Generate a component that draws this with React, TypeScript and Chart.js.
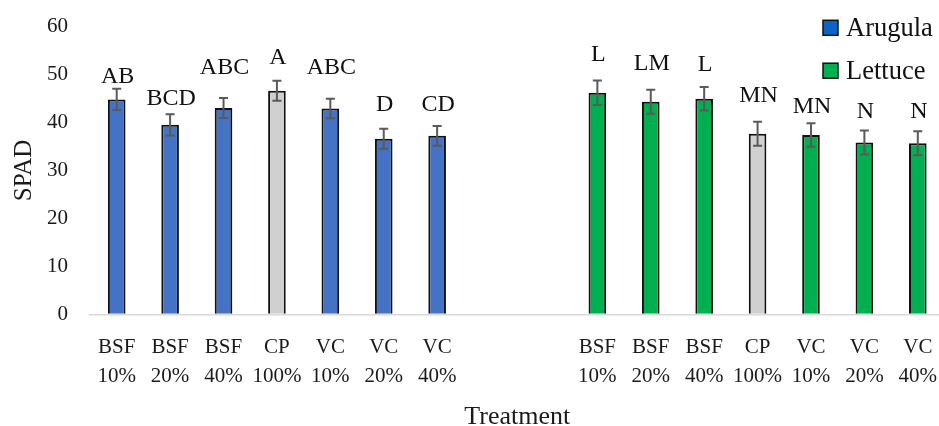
import React, { useEffect, useRef } from "react";
import { Chart, registerables } from "chart.js";

Chart.register(...registerables);

// ---------- data ----------
const treatments: string[][] = [
  ["BSF", "10%"], ["BSF", "20%"], ["BSF", "40%"], ["CP", "100%"],
  ["VC", "10%"], ["VC", "20%"], ["VC", "40%"],
];
const gapCategories: string[][] = [[""], [""]];

const arugulaMean = [44.8, 39.5, 43.0, 46.6, 42.9, 36.6, 37.2];
const arugulaSD = [2.2, 2.2, 2.1, 2.1, 2.05, 2.1, 2.05];
const arugulaLetters = ["AB", "BCD", "ABC", "A", "ABC", "D", "CD"];
const arugulaLetterLevel = [49.6, 44.95, 51.35, 53.5, 51.35, 43.8, 43.6];

const lettuceMean = [46.2, 44.3, 44.95, 37.65, 37.4, 35.8, 35.65];
const lettuceSD = [2.55, 2.5, 2.45, 2.5, 2.45, 2.5, 2.5];
const lettuceLetters = ["L", "LM", "L", "MN", "MN", "N", "N"];
const lettuceLetterLevel = [54.05, 52.3, 52.1, 45.6, 43.3, 42.3, 42.3];

const yMin = 0;
const yMax = 60;
const yStep = 10;

// ---------- styles ----------
const FONT = "'Liberation Serif', 'Times New Roman', serif";
const BLUE = "#4472C4";
const GREEN = "#00B050";
const GRAY = "#D0D0D0";
const LEGEND_BLUE = "#0B63C8";
const TEXT = "#1a1a1a";
const CLEAR = "rgba(0,0,0,0)";

const categories = [...treatments, ...gapCategories, ...treatments];
const pad = gapCategories.map(() => null);
const blankLettuce = treatments.map(() => null);

const colorFor = (base: string) =>
  treatments.map((t) => (t[0] === "CP" ? GRAY : base));

const series = [
  { mean: arugulaMean, sd: arugulaSD, letters: arugulaLetters, levels: arugulaLetterLevel },
  { mean: lettuceMean, sd: lettuceSD, letters: lettuceLetters, levels: lettuceLetterLevel },
];

const annotatePlugin = {
  id: "annotate",
  afterDatasetsDraw(chart: any) {
    const ctx = chart.ctx;
    const yScale = chart.scales.y;
    chart.data.datasets.forEach((ds: any, di: number) => {
      const meta = chart.getDatasetMeta(di);
      const s = series[di];
      let k = 0;
      meta.data.forEach((el: any, i: number) => {
        const v = ds.data[i];
        if (v === null || v === undefined) return;
        const x = el.x;
        const mean = s.mean[k];
        const sd = s.sd[k];
        const yt = yScale.getPixelForValue(mean + sd);
        const yb = yScale.getPixelForValue(mean - sd);
        ctx.save();
        ctx.strokeStyle = "#5a5a5a";
        ctx.lineWidth = 2;
        ctx.beginPath();
        ctx.moveTo(x, yt);
        ctx.lineTo(x, yb);
        ctx.moveTo(x - 4.5, yt);
        ctx.lineTo(x + 4.5, yt);
        ctx.moveTo(x - 4.5, yb);
        ctx.lineTo(x + 4.5, yb);
        ctx.stroke();
        ctx.fillStyle = "#111";
        ctx.font = `24px ${FONT}`;
        ctx.textAlign = "center";
        ctx.textBaseline = "middle";
        ctx.fillText(s.letters[k], x + 1, yScale.getPixelForValue(s.levels[k]));
        ctx.restore();
        k++;
      });
    });
  },
  afterDraw(chart: any) {
    const ctx = chart.ctx;
    const items = [
      { label: chart.data.datasets[0].label, color: LEGEND_BLUE, cy: 27.8 },
      { label: chart.data.datasets[1].label, color: GREEN, cy: 70.7 },
    ];
    ctx.save();
    items.forEach((it) => {
      ctx.fillStyle = it.color;
      ctx.fillRect(823, it.cy - 7.5, 15, 15);
      ctx.strokeStyle = "#111";
      ctx.lineWidth = 1.5;
      ctx.strokeRect(823, it.cy - 7.5, 15, 15);
      ctx.fillStyle = "#111";
      ctx.font = `26.5px ${FONT}`;
      ctx.textAlign = "left";
      ctx.textBaseline = "middle";
      ctx.fillText(it.label, 846, it.cy + 1);
    });
    ctx.restore();
  },
};

export default function App() {
  const ref = useRef<HTMLCanvasElement | null>(null);

  useEffect(() => {
    if (!ref.current) return;
    const chart = new Chart(ref.current, {
      type: "bar",
      data: {
        labels: categories,
        datasets: [
          {
            label: "Arugula",
            data: [...arugulaMean, ...pad, ...blankLettuce],
            backgroundColor: [...colorFor(BLUE), ...pad.map(() => BLUE), ...colorFor(BLUE)],
            borderColor: "#111",
            borderWidth: 2,
            grouped: false,
            categoryPercentage: 1,
            barPercentage: 0.33,
          },
          {
            label: "Lettuce",
            data: [...blankLettuce, ...pad, ...lettuceMean],
            backgroundColor: [...colorFor(GREEN), ...pad.map(() => GREEN), ...colorFor(GREEN)],
            borderColor: "#111",
            borderWidth: 2,
            grouped: false,
            categoryPercentage: 1,
            barPercentage: 0.33,
          },
        ],
      },
      options: {
        responsive: false,
        animation: false,
        devicePixelRatio: 1,
        layout: { padding: { top: 26.5, right: 1.5, left: 0, bottom: 0 } },
        plugins: {
          legend: { display: false },
          tooltip: { enabled: false },
        },
        scales: {
          x: {
            type: "category",
            offset: true,
            grid: {
              display: true,
              drawOnChartArea: false,
              drawTicks: true,
              tickLength: 18,
              color: CLEAR,
            },
            border: { display: true, color: "#D9D9D9", width: 1.5 },
            ticks: {
              font: { family: FONT, size: 21, lineHeight: 1.41 },
              color: TEXT,
              padding: 0,
              maxRotation: 0,
              autoSkip: false,
            },
            title: {
              display: true,
              text: "Treatment",
              font: { family: FONT, size: 26, lineHeight: 0.7 },
              color: TEXT,
              padding: 0,
            },
            afterFit: (s: any) => {
              s.height = 111.7;
            },
          },
          y: {
            min: yMin,
            max: yMax,
            grid: {
              display: true,
              drawOnChartArea: false,
              drawTicks: true,
              tickLength: 22,
              color: CLEAR,
            },
            border: { display: false },
            ticks: {
              stepSize: yStep,
              font: { family: FONT, size: 21 },
              color: TEXT,
              padding: 0,
            },
            title: {
              display: true,
              text: "SPAD",
              font: { family: FONT, size: 25, lineHeight: 1.2 },
              color: TEXT,
              padding: { top: 9, bottom: 0 },
            },
            afterFit: (s: any) => {
              s.width = 90;
            },
          },
        },
      },
      plugins: [annotatePlugin],
    } as any);
    return () => chart.destroy();
  }, []);

  return (
    <div
      style={{
        position: "fixed",
        left: 0,
        top: 0,
        width: 939,
        height: 426,
        overflow: "hidden",
        background: "#fff",
      }}
    >
      <canvas ref={ref} width={946} height={426} style={{ display: "block" }} />
    </div>
  );
}
